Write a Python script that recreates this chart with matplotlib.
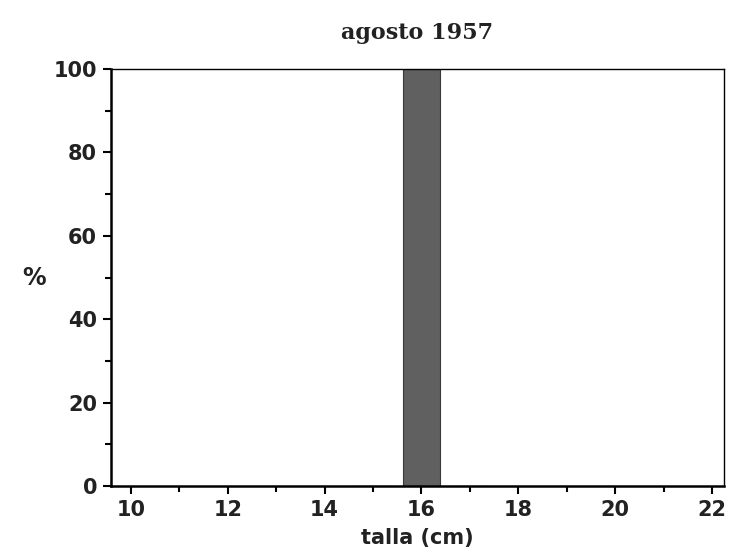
import matplotlib.pyplot as plt
from matplotlib.ticker import MultipleLocator

# size classes (cm) and percentage of catch
talla = [15, 16, 17]
porcentaje = [0, 100, 0]
bar_width = 0.77

fig = plt.figure(figsize=(7.3, 5.57), dpi=100)
ax = fig.add_axes([0.152, 0.1275, 0.840, 0.7485])

ax.bar(talla, porcentaje, width=bar_width, color="#606060", edgecolor="#3a3a3a",
       linewidth=0.8)

ax.set_xlim(9.59, 22.25)
ax.set_ylim(0, 100)
ax.xaxis.set_major_locator(MultipleLocator(2))
ax.xaxis.set_minor_locator(MultipleLocator(1))
ax.yaxis.set_major_locator(MultipleLocator(20))
ax.yaxis.set_minor_locator(MultipleLocator(10))
ax.tick_params(which="major", length=6, width=1.5, labelsize=15, pad=4)
ax.tick_params(which="minor", length=4, width=1.5)
for lab in ax.get_xticklabels() + ax.get_yticklabels():
    lab.set_fontweight("bold")
    lab.set_color("#222222")

for side in ["left", "bottom"]:
    ax.spines[side].set_linewidth(1.8)
for side in ["top", "right"]:
    ax.spines[side].set_linewidth(1.0)

ax.set_xlabel("talla (cm)", fontsize=15, fontweight="bold", color="#222222", labelpad=6)
ax.set_ylabel("%", fontsize=17, fontweight="bold", rotation=0, color="#222222",
              labelpad=14, va="center")
ax.set_title("agosto 1957", fontsize=16, fontweight="bold", family="DejaVu Serif",
             color="#222222", pad=22)

fig.savefig("out.png", dpi=100)
plt.close(fig)
